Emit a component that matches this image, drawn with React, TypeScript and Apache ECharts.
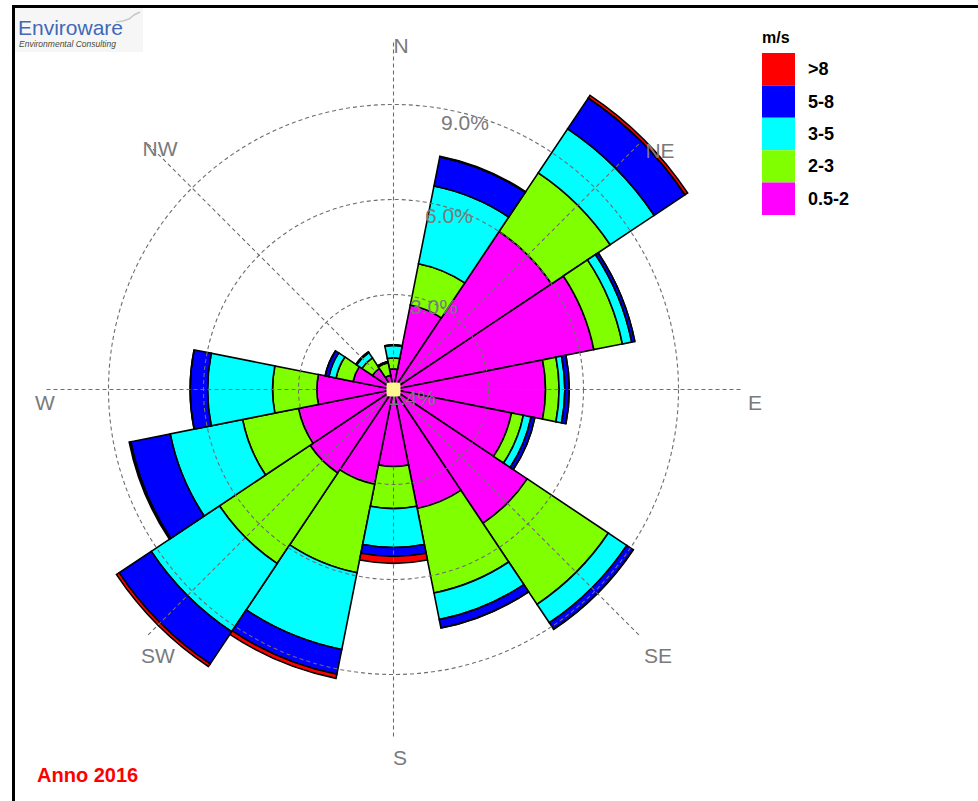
import React, { useEffect, useRef } from "react";
import * as echarts from "echarts";

const DIRS = ["N", "NNE", "NE", "ENE", "E", "ESE", "SE", "SSE", "S", "SSW", "SW", "WSW", "W", "WNW", "NW", "NNW"];
const SPEED_CLASSES = ["0.5-2", "2-3", "3-5", "5-8", ">8"];
const CLASS_COLORS = ["#FF00FF", "#80FF00", "#00FFFF", "#0000FF", "#FF0000"];
// frequencies (%) per direction, per speed class
const S_05_2 = [0.65, 2.72, 6.0, 6.45, 4.8, 3.8, 5.08, 3.83, 2.43, 3.05, 3.17, 3.06, 2.42, 1.3, 0.8, 0.46];
const S_2_3 = [0.35, 1.33, 2.23, 0.92, 0.43, 0.38, 3.08, 2.72, 1.33, 2.85, 3.44, 1.8, 1.4, 0.55, 0.4, 0.4];
const S_3_5 = [0.39, 2.5, 1.67, 0.3, 0.18, 0.25, 0.7, 0.86, 1.23, 2.47, 2.59, 2.33, 2.05, 0.23, 0.2, 0.04];
const S_5_8 = [0.02, 0.94, 1.17, 0.1, 0.14, 0.12, 0.24, 0.27, 0.28, 0.8, 1.22, 1.27, 0.55, 0.12, 0.03, 0];
const S_GT8 = [0, 0.02, 0.1, 0, 0, 0, 0.01, 0, 0.22, 0.13, 0.1, 0.05, 0, 0, 0, 0];
const RING_VALUES = [3, 6, 9];
const RING_LABELS = ["3.0%", "6.0%", "9.0%"];
const COMPASS = ["N", "NE", "E", "SE", "S", "SW", "W", "NW"];
const CALM_LABEL = "1.4%";
const LEGEND_ORDER = [">8", "5-8", "3-5", "2-3", "0.5-2"];

const FONT = "'Liberation Sans', Arial, sans-serif";
const GRAY = "#7a7a7a";
const GRID = "#6e6e6e";

export default function App() {
  const ref = useRef<HTMLDivElement>(null);
  useEffect(() => {
    if (!ref.current) return;
    const chart = echarts.init(ref.current, null, { renderer: "svg" });
    const seriesData = [S_05_2, S_2_3, S_3_5, S_5_8, S_GT8];
    const cx = 393.5;
    const cy = 389.5;
    const POLAR_R = 380;
    const AXIS_MAX = 12;
    const pxPerUnit = POLAR_R / AXIS_MAX;
    const SPOKE_LEN = 348;
    const dash = [4, 3];

    const compassPos: [number, number][] = [
      [401, 45], [660, 150], [755, 402], [658, 655],
      [400, 757], [158, 655], [45, 402], [160, 148],
    ];
    const ringPos: [number, number][] = [[410, 306], [425, 215], [441, 122]];

    const txt = (text: string, x: number, y: number, font: string, fill: string, align = "center", z = 100) => ({
      type: "text",
      z,
      silent: true,
      style: {
        text, x, y, font, fill,
        align, textAlign: align,
        verticalAlign: "middle", textVerticalAlign: "middle",
      },
    });

    const graphic: any[] = [];
    // grid rings and spokes, drawn above the bars
    RING_VALUES.forEach((v) =>
      graphic.push({
        type: "circle", z: 60, silent: true,
        shape: { cx, cy, r: v * pxPerUnit },
        style: { fill: null, stroke: GRID, lineWidth: 1.1, lineDash: dash },
      })
    );
    COMPASS.forEach((_, i) => {
      const a = (i * 45 * Math.PI) / 180;
      graphic.push({
        type: "line", z: 60, silent: true,
        shape: { x1: cx, y1: cy, x2: cx + SPOKE_LEN * Math.sin(a), y2: cy - SPOKE_LEN * Math.cos(a) },
        style: { stroke: GRID, lineWidth: 1.1, lineDash: dash },
      });
    });
    graphic.push(
      { type: "rect", z: 100, silent: true, shape: { x: 12, y: 5, width: 966, height: 3 }, style: { fill: "#000" } },
      { type: "rect", z: 100, silent: true, shape: { x: 12, y: 5, width: 3, height: 796 }, style: { fill: "#000" } },
      { type: "rect", z: 99, silent: true, shape: { x: 15, y: 8, width: 128, height: 44 }, style: { fill: "#f6f6f6" } },
      txt("Enviroware", 18, 27, `21px ${FONT}`, "#4169b8", "left"),
      txt("Environmental Consulting", 19, 44, `italic 8.5px ${FONT}`, "#4a4a3a", "left"),
      {
        type: "polyline", z: 100, silent: true,
        shape: { points: [[116, 22], [123, 21], [129, 19], [134, 15], [140, 12]] },
        style: { stroke: "#c8c8c8", lineWidth: 1.5, fill: null },
      },
      txt("m/s", 762, 37, `bold 16px ${FONT}`, "#000", "left"),
      txt("Anno 2016", 37, 775, `bold 20px ${FONT}`, "#FF0000", "left"),
      txt(CALM_LABEL, 388, 397, `21px ${FONT}`, GRAY, "left", 101),
      {
        type: "rect", z: 102, silent: true,
        shape: { x: cx - 7, y: cy - 7, width: 14, height: 14, r: 3 },
        style: { fill: "#FFF68F" },
      }
    );
    COMPASS.forEach((d, i) => graphic.push(txt(d, compassPos[i][0], compassPos[i][1], `21px ${FONT}`, GRAY)));
    RING_LABELS.forEach((d, i) => graphic.push(txt(d, ringPos[i][0], ringPos[i][1], `21px ${FONT}`, GRAY, "left")));

    chart.setOption({
      animation: false,
      backgroundColor: "#fff",
      textStyle: { fontFamily: FONT },
      polar: { center: [cx, cy], radius: POLAR_R },
      angleAxis: {
        type: "category", data: DIRS, startAngle: 101.25, clockwise: true, boundaryGap: true,
        axisLine: { show: false }, axisTick: { show: false }, axisLabel: { show: false },
        splitLine: { show: false }, splitArea: { show: false },
      },
      radiusAxis: {
        type: "value", min: 0, max: AXIS_MAX, interval: 3,
        axisLine: { show: false }, axisTick: { show: false }, axisLabel: { show: false },
        splitLine: { show: false },
      },
      legend: {
        orient: "vertical",
        left: 762,
        top: 53,
        padding: 0,
        itemGap: 0,
        itemWidth: 33,
        itemHeight: 32.4,
        icon: "rect",
        selectedMode: false,
        data: LEGEND_ORDER,
        itemStyle: { borderWidth: 0 },
        textStyle: { fontSize: 18, fontWeight: "bold", color: "#000", fontFamily: FONT, padding: [0, 0, 0, 8] },
      },
      series: SPEED_CLASSES.map((name, i) => ({
        name,
        type: "bar",
        coordinateSystem: "polar",
        stack: "rose",
        barCategoryGap: "0%",
        data: seriesData[i],
        itemStyle: { color: CLASS_COLORS[i], borderColor: "#000", borderWidth: 1.6 },
        z: 2,
      })),
      graphic,
    });
    return () => chart.dispose();
  }, []);
  return (
    <div
      ref={ref}
      style={{ position: "absolute", left: 0, top: 0, width: 978, height: 801, background: "#fff" }}
    />
  );
}
